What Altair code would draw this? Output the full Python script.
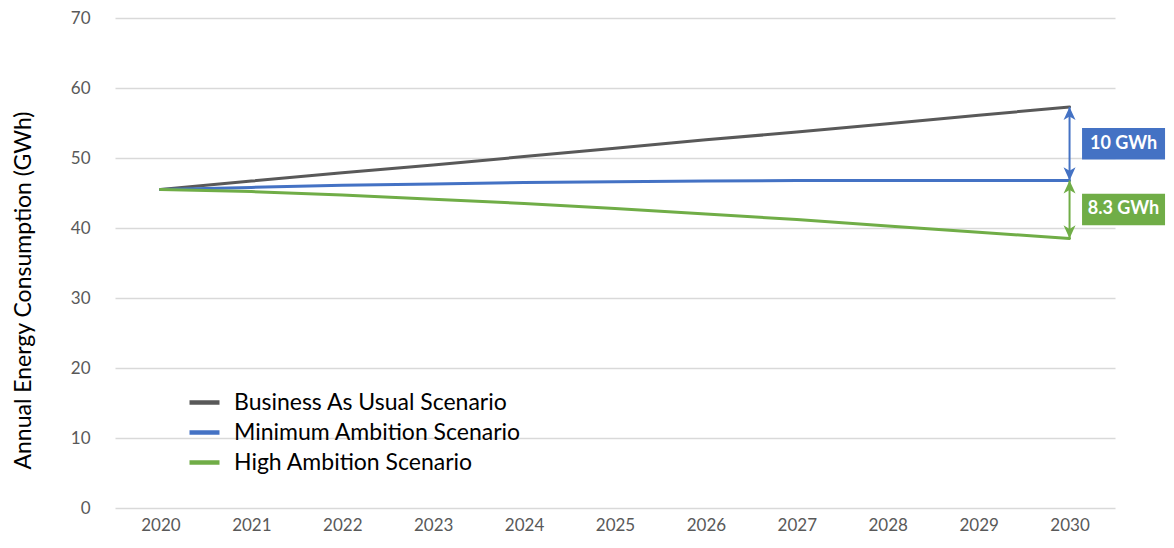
import altair as alt
import pandas as pd

years = [2020, 2021, 2022, 2023, 2024, 2025, 2026, 2027, 2028, 2029, 2030]
bau = [45.5, 46.7, 47.9, 49.0, 50.2, 51.4, 52.6, 53.7, 54.9, 56.1, 57.3]
minimum = [45.5, 45.8, 46.1, 46.3, 46.5, 46.6, 46.7, 46.8, 46.8, 46.8, 46.8]
high = [45.5, 45.2, 44.7, 44.1, 43.5, 42.8, 42.0, 41.2, 40.3, 39.4, 38.5]

series_names = ["Business As Usual Scenario", "Minimum Ambition Scenario", "High Ambition Scenario"]
series_colors = ["#595959", "#4472C4", "#70AD47"]
gap_labels = ["10 GWh", "8.3 GWh"]

FONT = "Lato"

rows = []
for name, vals in zip(series_names, [bau, minimum, high]):
    for yr, v in zip(years, vals):
        rows.append({"year": yr, "value": v, "series": name})
df = pd.DataFrame(rows)

x_scale = alt.Scale(domain=[years[0] - 0.5, years[-1] + 0.5], nice=False, zero=False)
y_scale = alt.Scale(domain=[0, 70], nice=False)

lines = alt.Chart(df).mark_line(strokeWidth=3, strokeCap="round").encode(
    x=alt.X("year:Q", scale=x_scale,
            axis=alt.Axis(values=years, format="d", grid=False, ticks=False, domain=False,
                          labelFontSize=17, labelColor="#595959", labelFont=FONT,
                          labelPadding=9, title=None)),
    y=alt.Y("value:Q", scale=y_scale,
            axis=alt.Axis(values=list(range(0, 71, 10)), grid=True, gridColor="#D9D9D9",
                          gridWidth=1.3, ticks=False, domain=False,
                          labelFontSize=17, labelColor="#595959", labelFont=FONT,
                          labelPadding=25, title="Annual Energy Consumption (GWh)",
                          titleFontSize=23, titleFont=FONT, titleFontWeight="normal",
                          titleColor="#000000", titlePadding=35, titleY=272)),
    color=alt.Color("series:N", sort=series_names,
                    scale=alt.Scale(domain=series_names, range=series_colors),
                    legend=alt.Legend(title=None, orient="none", legendX=72, legendY=367,
                                      symbolType="stroke", symbolStrokeWidth=4.5, symbolSize=900,
                                      labelFontSize=23, labelFont=FONT, labelColor="#000000",
                                      labelOffset=12, rowPadding=0, labelLimit=500)),
)

# gap annotations at final year
end = pd.DataFrame([
    {"year": years[-1], "top": bau[-1], "bottom": minimum[-1], "label": gap_labels[0],
     "mid": (bau[-1] + minimum[-1]) / 2, "c": series_colors[1]},
    {"year": years[-1], "top": minimum[-1], "bottom": high[-1], "label": gap_labels[1],
     "mid": (minimum[-1] + high[-1]) / 2, "c": series_colors[2]},
])

rules = alt.Chart(end).mark_rule(strokeWidth=2).encode(
    x="year:Q", y="top:Q", y2="bottom:Q", color=alt.Color("c:N", scale=None, legend=None)
)
up_head = "M0,0 L-0.5,1.1 L0,0.8 L0.5,1.1 Z"
down_head = "M0,0 L-0.5,-1.1 L0,-0.8 L0.5,-1.1 Z"
heads_up = alt.Chart(end).mark_point(shape=up_head, size=576, filled=True, opacity=1).encode(
    x="year:Q", y="top:Q", color=alt.Color("c:N", scale=None, legend=None)
)
heads_down = alt.Chart(end).mark_point(shape=down_head, size=576, filled=True, opacity=1).encode(
    x="year:Q", y="bottom:Q", color=alt.Color("c:N", scale=None, legend=None)
)

box_shape = "M-1,-0.38 L1,-0.38 L1,0.38 L-1,0.38 Z"
boxes = alt.Chart(end).mark_point(
    shape=box_shape, size=83 * 83, filled=True, opacity=1, xOffset=54
).encode(x="year:Q", y="mid:Q", color=alt.Color("c:N", scale=None, legend=None))
txt = alt.Chart(end).mark_text(
    font=FONT, fontSize=18, fontWeight="bold", color="white", dx=54, baseline="middle"
).encode(x="year:Q", y="mid:Q", text="label:N")

chart = alt.layer(lines, rules, heads_up, heads_down, boxes, txt).properties(
    width=1000, height=490,
    autosize=alt.AutoSizeParams(type="none"),
    padding={"left": 107, "top": 10, "right": 51, "bottom": 27},
).configure_view(stroke=None)

chart.save("out.html", embed_options={"renderer": "svg", "actions": False})
